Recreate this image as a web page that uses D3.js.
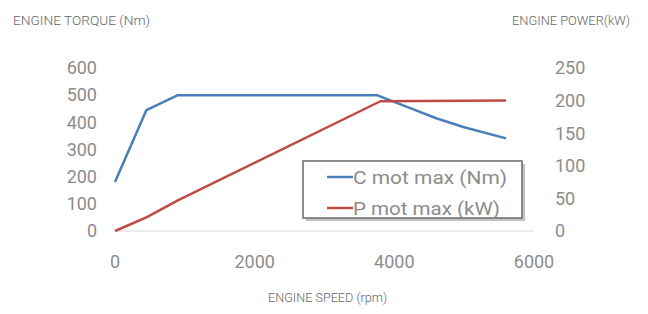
<!DOCTYPE html>
<html>
<head>
<meta charset="utf-8">
<script src="https://cdn.jsdelivr.net/npm/d3@7.9.0/dist/d3.min.js"></script>
<style>
  html, body { margin: 0; padding: 0; background: #fff; }
  svg { display: block; font-family: Roboto, "Noto Sans", sans-serif; }
</style>
</head>
<body>
<svg id="chart"></svg>
<script>
const width = 648;
const height = 314;

// torque curve (Nm) vs engine speed (rpm)
const torqueRpm = [0, 450, 900, 3750, 4200, 4600, 5000, 5600];
const torqueNm  = [180, 445, 500, 500, 455, 415, 382, 341];

// power curve (kW) vs engine speed (rpm)
const powerRpm = [0, 450, 900, 3800, 5600];
const powerKw  = [0, 21, 47, 199, 200];

const xTicks = [0, 2000, 4000, 6000];
const leftTicks = [0, 100, 200, 300, 400, 500, 600];
const rightTicks = [0, 50, 100, 150, 200, 250];

const seriesNames = ["C mot max (Nm)", "P mot max (kW)"];
const seriesColors = ["#4a7ebb", "#be4b48"];

const svg = d3.select("#chart").attr("width", width).attr("height", height);

const x = d3.scaleLinear().domain([0, 6000]).range([115, 534]);
const yL = d3.scaleLinear().domain([0, 600]).range([231, 68]);
const yR = d3.scaleLinear().domain([0, 250]).range([231, 68]);

// baseline
svg.append("line")
    .attr("x1", x(0)).attr("x2", x(6000))
    .attr("y1", yL(0)).attr("y2", yL(0))
    .attr("stroke", "#e6e6e6").attr("stroke-width", 1.5);

const tickColor = "#8c8c8c";
const tickSize = "18px";

// left axis labels
svg.append("g").selectAll("text").data(leftTicks).join("text")
    .attr("x", 97).attr("y", d => yL(d))
    .attr("dy", "0.35em")
    .attr("text-anchor", "end")
    .attr("fill", tickColor).style("font-size", tickSize)
    .text(d => d);

// right axis labels
svg.append("g").selectAll("text").data(rightTicks).join("text")
    .attr("x", 555).attr("y", d => yR(d))
    .attr("dy", "0.35em")
    .attr("text-anchor", "start")
    .attr("fill", tickColor).style("font-size", tickSize)
    .text(d => d);

// x axis labels
svg.append("g").selectAll("text").data(xTicks).join("text")
    .attr("x", d => x(d)).attr("y", 262)
    .attr("dy", "0.35em")
    .attr("text-anchor", "middle")
    .attr("fill", tickColor).style("font-size", tickSize)
    .text(d => d);

// lines
const torqueLine = d3.line().x(d => x(d[0])).y(d => yL(d[1]));
const powerLine = d3.line().x(d => x(d[0])).y(d => yR(d[1]));

svg.append("path")
    .datum(torqueRpm.map((r, i) => [r, torqueNm[i]]))
    .attr("d", torqueLine)
    .attr("fill", "none").attr("stroke", seriesColors[0])
    .attr("stroke-width", 2.5).attr("stroke-linejoin", "round");

svg.append("path")
    .datum(powerRpm.map((r, i) => [r, powerKw[i]]))
    .attr("d", powerLine)
    .attr("fill", "none").attr("stroke", seriesColors[1])
    .attr("stroke-width", 2.5).attr("stroke-linejoin", "round");

// legend with shadow
const legend = svg.append("g").attr("transform", "translate(303,161)");
legend.append("rect")
    .attr("x", 3).attr("y", 3).attr("width", 219).attr("height", 57)
    .attr("fill", "#c4c4c4");
legend.append("rect")
    .attr("width", 219).attr("height", 57)
    .attr("fill", "#fff").attr("stroke", "#6a6a6a").attr("stroke-width", 1.5);

seriesNames.forEach((name, i) => {
    const yy = 16 + i * 31;
    legend.append("line")
        .attr("x1", 24).attr("x2", 50).attr("y1", yy).attr("y2", yy)
        .attr("stroke", seriesColors[i]).attr("stroke-width", 2.5);
    legend.append("text")
        .attr("x", 50).attr("y", yy).attr("dy", "0.35em")
        .attr("fill", tickColor).style("font-size", "19px")
        .attr("textLength", i === 0 ? 154 : 147)
        .attr("lengthAdjust", "spacingAndGlyphs")
        .text(name);
});

// axis titles
const titleColor = "#666";
svg.append("text")
    .attr("x", 13).attr("y", 25)
    .attr("fill", titleColor).style("font-size", "12px").style("font-weight", 300)
    .attr("textLength", 137).attr("lengthAdjust", "spacingAndGlyphs")
    .text("ENGINE TORQUE (Nm)");

svg.append("text")
    .attr("x", 512).attr("y", 25)
    .attr("fill", titleColor).style("font-size", "12px").style("font-weight", 300)
    .attr("textLength", 118).attr("lengthAdjust", "spacingAndGlyphs")
    .text("ENGINE POWER(kW)");

svg.append("text")
    .attr("x", 268).attr("y", 302)
    .attr("fill", titleColor).style("font-size", "12px").style("font-weight", 300)
    .attr("textLength", 119).attr("lengthAdjust", "spacingAndGlyphs")
    .text("ENGINE SPEED (rpm)");
</script>
</body>
</html>
